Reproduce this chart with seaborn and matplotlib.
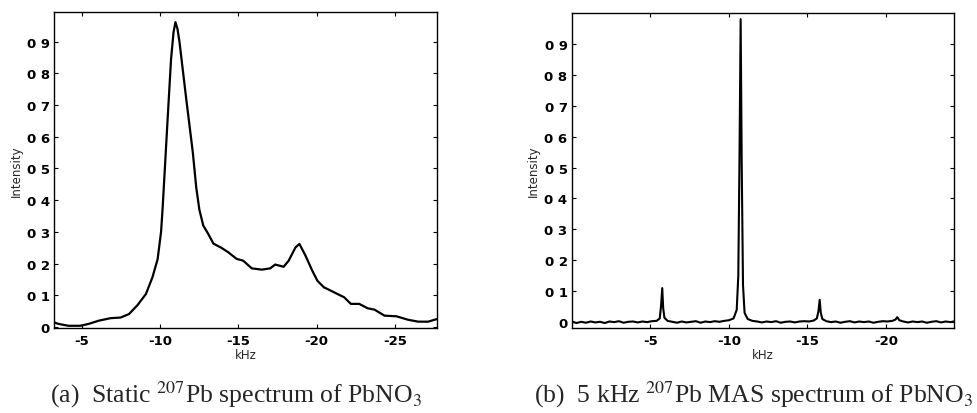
import matplotlib
matplotlib.use("Agg")
import matplotlib.pyplot as plt
import seaborn as sns
import pandas as pd

# ---- data ----
static_khz = [-3.2, -3.48, -4.13, -4.88, -5.42, -6.06, -6.82, -7.46, -8.0, -8.54,
              -9.08, -9.5, -9.83, -10.05, -10.15, -10.47, -10.69, -10.85, -10.97, -11.1,
              -11.23, -11.66, -12.08, -12.3, -12.5, -12.75, -13.05, -13.4, -13.9,
              -14.34, -14.88, -15.31, -15.85, -16.5, -17.03, -17.35, -17.89, -18.21,
              -18.65, -18.9, -19.29, -19.72, -20.05, -20.47, -20.69, -21.34, -21.76,
              -22.19, -22.73, -23.27, -23.7, -24.34, -25.1, -25.85, -26.5, -27.14, -27.68]
static_int = [0.015, 0.01, 0.004, 0.004, 0.01, 0.02, 0.028, 0.03, 0.041, 0.069,
              0.104, 0.157, 0.214, 0.30, 0.375, 0.656, 0.845, 0.93, 0.961, 0.94,
              0.898, 0.719, 0.551, 0.44, 0.37, 0.32, 0.295, 0.263, 0.25,
              0.236, 0.215, 0.209, 0.185, 0.181, 0.185, 0.197, 0.19, 0.209,
              0.251, 0.262, 0.225, 0.178, 0.146, 0.125, 0.12, 0.104, 0.094,
              0.073, 0.073, 0.059, 0.055, 0.036, 0.034, 0.023, 0.017, 0.017, 0.025]

mas_khz = [0.0, -0.3, -0.6, -0.9, -1.2, -1.5, -1.8, -2.1, -2.4, -2.7, -3.0, -3.3,
           -3.6, -3.9, -4.2, -4.5, -4.8, -5.1, -5.4, -5.6, -5.68, -5.76, -5.82,
           -5.9, -6.1, -6.4, -6.7, -7.0, -7.3, -7.6, -7.9, -8.2, -8.5, -8.8, -9.1,
           -9.4, -9.7, -10.0, -10.3, -10.5, -10.6, -10.68, -10.75, -10.82, -10.9,
           -11.0, -11.2, -11.5, -11.8, -12.1, -12.4, -12.7, -13.0, -13.3, -13.6,
           -13.9, -14.2, -14.5, -14.8, -15.1, -15.4, -15.6, -15.7, -15.78, -15.85,
           -15.95, -16.2, -16.5, -16.8, -17.1, -17.4, -17.7, -18.0, -18.3, -18.6,
           -18.9, -19.2, -19.5, -19.8, -20.1, -20.4, -20.6, -20.72, -20.85, -21.1,
           -21.4, -21.7, -22.0, -22.3, -22.6, -22.9, -23.2, -23.5, -23.8, -24.1, -24.3]
mas_int = [0.002, -0.003, 0.001, -0.002, 0.002, -0.001, 0.001, -0.003, 0.002, 0.000,
           0.003, -0.002, 0.001, 0.002, -0.001, 0.002, 0.000, 0.003, 0.004, 0.012,
           0.05, 0.11, 0.045, 0.014, 0.004, 0.001, -0.002, 0.002, -0.001, 0.001,
           0.003, -0.002, 0.002, 0.0, 0.003, 0.001, 0.004, 0.006, 0.012, 0.04,
           0.15, 0.55, 0.98, 0.5, 0.12, 0.03, 0.01, 0.004, 0.002, -0.001, 0.002,
           0.0, 0.003, -0.002, 0.001, 0.002, -0.001, 0.002, 0.003, 0.002, 0.005,
           0.012, 0.035, 0.072, 0.03, 0.01, 0.003, 0.0, 0.002, -0.002, 0.001,
           0.003, -0.001, 0.002, 0.0, 0.002, -0.002, 0.001, 0.003, 0.002, 0.004,
           0.008, 0.016, 0.006, 0.002, -0.001, 0.002, 0.0, 0.002, -0.002, 0.001,
           0.003, -0.001, 0.002, 0.0, 0.002]

ytick_vals = [0, 0.1, 0.2, 0.3, 0.4, 0.5, 0.6, 0.7, 0.8, 0.9]
ytick_labels = ["0", "0 1", "0 2", "0 3", "0 4", "0 5", "0 6", "0 7", "0 8", "0 9"]
xticks_a = [-5, -10, -15, -20, -25]
xticks_b = [-5, -10, -15, -20]
caption_a = r"(a)  Static $^{207}$Pb spectrum of PbNO$_3$"
caption_b = r"(b)  5 kHz $^{207}$Pb MAS spectrum of PbNO$_3$"

# ---- figure ----
sns.set_style("ticks")
plt.rcParams["font.family"] = ["DejaVu Sans"]
plt.rcParams["mathtext.fontset"] = "stix"

fig = plt.figure(figsize=(9.78, 4.14), dpi=100)
ax1 = fig.add_axes([0.0552, 0.2053, 0.3916, 0.7633])
ax2 = fig.add_axes([0.5846, 0.2046, 0.3904, 0.7616])

df_a = pd.DataFrame({"kHz": static_khz, "Intensity": static_int})
df_b = pd.DataFrame({"kHz": mas_khz, "Intensity": mas_int})

sns.lineplot(data=df_a, x="kHz", y="Intensity", ax=ax1, color="black",
             linewidth=1.6, estimator=None, sort=False)
sns.lineplot(data=df_b, x="kHz", y="Intensity", ax=ax2, color="black",
             linewidth=1.5, estimator=None, sort=False)

ax1.set_xlim(-3.2, -27.7)
ax1.set_ylim(-0.003, 0.993)
ax1.set_xticks(xticks_a)
ax1.set_xticklabels([str(v) for v in xticks_a])

ax2.set_xlim(0.0, -24.3)
ax2.set_ylim(-0.02, 1.0)
ax2.set_xticks(xticks_b)
ax2.set_xticklabels([str(v) for v in xticks_b])

for ax in (ax1, ax2):
    ax.set_yticks(ytick_vals)
    ax.set_yticklabels(ytick_labels)
    ax.tick_params(direction="in", top=True, right=True, length=3, width=0.8,
                   labelsize=9.5, colors="black")
    ax.tick_params(axis="x", pad=4)
    ax.tick_params(axis="y", pad=3)
    for lbl in ax.get_xticklabels() + ax.get_yticklabels():
        lbl.set_fontweight("bold")
    for s in ax.spines.values():
        s.set_visible(True)
        s.set_linewidth(1.0)
        s.set_color("black")
    ax.set_xlabel("kHz", fontsize=8.5, labelpad=1)
    ax.set_ylabel("Intensity", fontsize=8.5, labelpad=3)

fig.text(0.241, 0.046, caption_a, ha="center", va="center",
         fontsize=18.5, family="Liberation Serif")
fig.text(0.771, 0.046, caption_b, ha="center", va="center",
         fontsize=18.5, family="Liberation Serif")

fig.savefig("out.png", dpi=100)
